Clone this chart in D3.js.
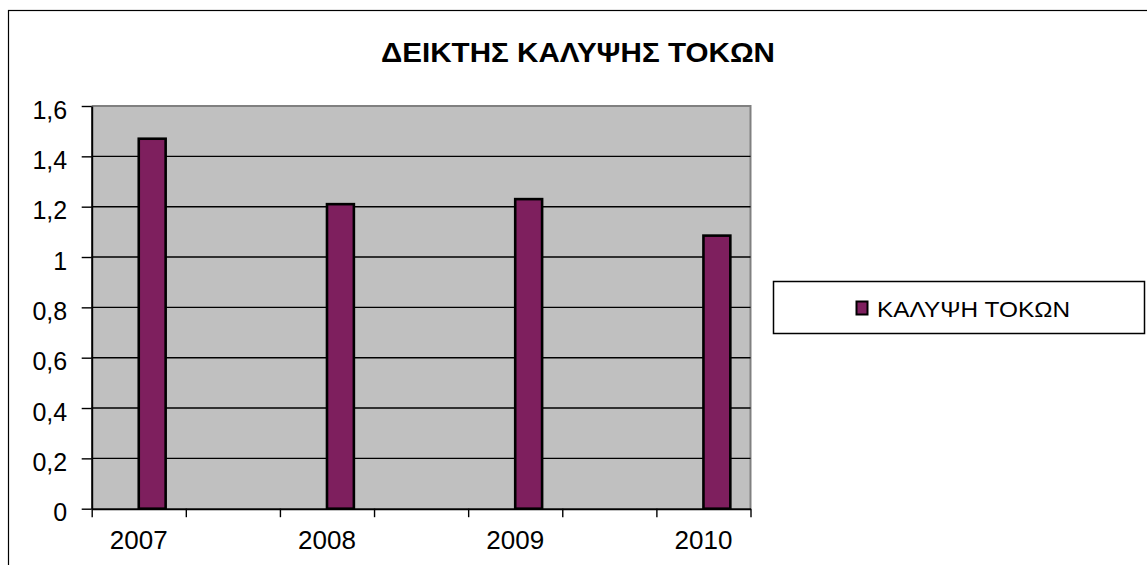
<!DOCTYPE html>
<html><head><meta charset="utf-8">
<script src="https://cdn.jsdelivr.net/npm/d3@7"></script>
<style>body{margin:0;background:#fff}svg{display:block}</style>
</head><body><svg id="c" width="1147" height="565"></svg>
<script>
const title = "ΔΕΙΚΤΗΣ ΚΑΛΥΨΗΣ ΤΟΚΩΝ";
const categories = ["2007", "", "2008", "", "2009", "", "2010"];
const seriesNames = ["", "ΚΑΛΥΨΗ ΤΟΚΩΝ"];
const emptySeries = [null, null, null, null, null, null, null];
const coverage = [1.47, null, 1.21, null, 1.23, null, 1.085];
const yTicks = [0, 0.2, 0.4, 0.6, 0.8, 1, 1.2, 1.4, 1.6];
const yTickLabels = ["0", "0,2", "0,4", "0,6", "0,8", "1", "1,2", "1,4", "1,6"];

const FONT = "'Liberation Sans', Arial, sans-serif";
const BAR = "#7E1F5E";
const svg = d3.select("#c");
const L = 91.7, R = 750.5, T = 106, B = 508.7;

// outer frame (left & top visible)
svg.append("rect").attr("x", 8.5).attr("y", 10.5).attr("width", 1200).attr("height", 600)
  .attr("fill", "none").attr("stroke", "#000").attr("stroke-width", 1.2);

// title
svg.append("text").attr("x", 578).attr("y", 62).attr("text-anchor", "middle")
  .attr("font-family", FONT).attr("font-weight", "bold").attr("font-size", 27.5)
  .attr("textLength", 394).attr("lengthAdjust", "spacingAndGlyphs").text(title);

const idx = categories.map((d, i) => i);
const x = d3.scaleBand().domain(idx).range([L, R]).padding(0);
const xInner = d3.scaleBand().domain([0, 1]).range([0, x.bandwidth()]).paddingInner(0).paddingOuter(0.75);
const y = d3.scaleLinear().domain([0, 1.6]).range([B, T]);

// plot area
svg.append("rect").attr("x", L).attr("y", T).attr("width", R - L).attr("height", B - T).attr("fill", "#C0C0C0");
svg.append("path").attr("d", `M${L},${T}H${R}V${B}`).attr("fill", "none").attr("stroke", "#808080").attr("stroke-width", 2);

// gridlines
svg.append("g").selectAll("line").data(yTicks.filter(v => v > 0 && v < 1.6)).join("line")
  .attr("x1", L).attr("x2", R).attr("y1", d => y(d)).attr("y2", d => y(d))
  .attr("stroke", "#000").attr("stroke-width", 1.4);

// bars
const series = [emptySeries, coverage];
series.forEach((vals, s) => {
  svg.append("g").selectAll("rect").data(vals.map((v, i) => ({ v, i })).filter(d => d.v != null)).join("rect")
    .attr("x", d => x(d.i) + xInner(s)).attr("width", xInner.bandwidth())
    .attr("y", d => y(d.v)).attr("height", d => y(0) - y(d.v))
    .attr("fill", BAR).attr("stroke", "#000").attr("stroke-width", 2.6);
});

// y axis
const yAxis = svg.append("g").attr("transform", `translate(${L},0)`)
  .call(d3.axisLeft(y).tickValues(yTicks).tickSize(10).tickSizeOuter(0).tickPadding(14.5)
    .tickFormat((d, i) => yTickLabels[i]));
yAxis.select(".domain").attr("stroke", "#000").attr("stroke-width", 2);
yAxis.selectAll(".tick line").attr("stroke", "#000").attr("stroke-width", 1.4);
yAxis.selectAll("text").attr("font-family", FONT).attr("font-size", 25).attr("fill", "#000").attr("dy", "0.48em");

// x axis ticks at category boundaries
const xb = d3.scaleLinear().domain([0, categories.length]).range([L, R]);
const xAxis = svg.append("g").attr("transform", `translate(0,${B})`)
  .call(d3.axisBottom(xb).tickValues(d3.range(categories.length + 1))
    .tickSize(8.5).tickSizeOuter(0).tickFormat(""));
xAxis.select(".domain").attr("stroke", "#000").attr("stroke-width", 2);
xAxis.selectAll(".tick line").attr("stroke", "#000").attr("stroke-width", 1.4);

// x labels
const xLab = svg.append("g").attr("transform", `translate(0,${B})`)
  .call(d3.axisBottom(x).tickSize(0).tickPadding(22).tickFormat(i => categories[i]));
xLab.select(".domain").remove();
xLab.selectAll("text").attr("font-family", FONT).attr("font-size", 26).attr("fill", "#000");

// legend
svg.append("rect").attr("x", 773.5).attr("y", 281.5).attr("width", 371).attr("height", 52)
  .attr("fill", "#fff").attr("stroke", "#000").attr("stroke-width", 1.5);
svg.append("rect").attr("x", 856.5).attr("y", 301.5).attr("width", 11).attr("height", 13)
  .attr("fill", BAR).attr("stroke", "#000").attr("stroke-width", 2);
svg.append("text").attr("x", 877).attr("y", 316.5)
  .attr("font-family", FONT).attr("font-size", 22)
  .attr("textLength", 193).attr("lengthAdjust", "spacingAndGlyphs").text(seriesNames[1]);
</script></body></html>
